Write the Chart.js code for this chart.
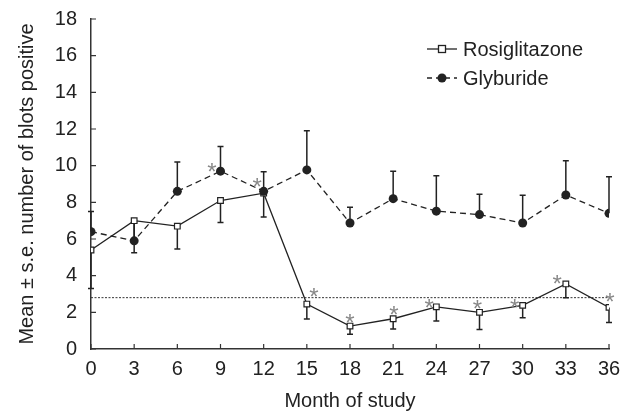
<!DOCTYPE html>
<html>
<head>
<meta charset="utf-8">
<script src="https://cdn.jsdelivr.net/npm/chart.js"></script>
<style>
  html, body { margin: 0; padding: 0; background: #fff; }
  #wrap { width: 632px; height: 414px; }
</style>
</head>
<body>
<div id="wrap"><canvas id="blotChart" width="632" height="414"></canvas></div>
<script>
// months of study
var months = [0, 3, 6, 9, 12, 15, 18, 21, 24, 27, 30, 33, 36];

// Rosiglitazone: mean and lower end of s.e. bar
var rosiMean = [5.4, 7.0, 6.7, 8.1, 8.5, 2.45, 1.25, 1.65, 2.3, 2.0, 2.38, 3.55, 2.27];
var rosiLow  = [3.3, 5.25, 5.45, 6.9, 7.2, 1.64, 0.8, 1.09, 1.53, 1.07, 1.71, 2.8, 1.44];

// Glyburide: mean and upper end of s.e. bar
var glybMean = [6.4, 5.9, 8.6, 9.7, 8.6, 9.77, 6.87, 8.2, 7.52, 7.33, 6.87, 8.4, 7.4];
var glybHigh = [7.5, 6.9, 10.2, 11.05, 9.67, 11.9, 7.73, 9.69, 9.45, 8.44, 8.38, 10.27, 9.4];

// significance markers (*)
var starX = [8.4, 11.55, 15.5, 18.0, 21.05, 23.5, 26.85, 29.45, 32.4, 36.07];
var starY = [10.0, 9.15, 3.18, 1.76, 2.18, 2.55, 2.53, 2.58, 3.9, 2.9];

// reference level
var refLevel = 2.8;

var FONT = '"Liberation Sans", Arial, sans-serif';
var INK = '#222';

function toXY(xs, ys) {
    return xs.map(function (x, i) { return { x: x, y: ys[i] }; });
}

var extrasPlugin = {
    id: 'extras',
    beforeDatasetsDraw: function (chart) {
        var ctx = chart.ctx;
        var xs = chart.scales.x, ys = chart.scales.y;
        var area = chart.chartArea;
        ctx.save();

        // dotted reference line
        ctx.strokeStyle = '#333';
        ctx.lineWidth = 1;
        ctx.setLineDash([2, 1.5]);
        ctx.beginPath();
        var yr = ys.getPixelForValue(refLevel);
        ctx.moveTo(xs.getPixelForValue(0), yr);
        ctx.lineTo(xs.getPixelForValue(36), yr);
        ctx.stroke();
        ctx.setLineDash([]);

        // error bars
        ctx.strokeStyle = INK;
        ctx.lineWidth = 1.5;
        function bar(x, y0, y1) {
            var px = xs.getPixelForValue(x);
            var p0 = ys.getPixelForValue(y0), p1 = ys.getPixelForValue(y1);
            ctx.beginPath();
            ctx.moveTo(px, p0);
            ctx.lineTo(px, p1);
            ctx.moveTo(px - 3, p1);
            ctx.lineTo(px + 3, p1);
            ctx.stroke();
        }
        months.forEach(function (m, i) {
            bar(m, rosiMean[i], rosiLow[i]);
            bar(m, glybMean[i], glybHigh[i]);
        });

        // inward tick marks
        ctx.strokeStyle = '#333';
        ctx.lineWidth = 1.2;
        ctx.beginPath();
        xs.ticks.forEach(function (t) {
            var px = xs.getPixelForValue(t.value);
            ctx.moveTo(px, area.bottom);
            ctx.lineTo(px, area.bottom - 5);
        });
        ys.ticks.forEach(function (t) {
            var py = ys.getPixelForValue(t.value);
            ctx.moveTo(area.left, py);
            ctx.lineTo(area.left + 5, py);
        });
        ctx.stroke();
        ctx.restore();
    },
    afterDatasetsDraw: function (chart) {
        var ctx = chart.ctx;
        var xs = chart.scales.x, ys = chart.scales.y;
        ctx.save();

        // asterisks
        ctx.fillStyle = '#888';
        ctx.font = '24px ' + FONT;
        ctx.textAlign = 'center';
        ctx.textBaseline = 'alphabetic';
        starX.forEach(function (x, i) {
            ctx.fillText('*', xs.getPixelForValue(x), ys.getPixelForValue(starY[i]) + 14);
        });

        // legend
        var lx = 427, rows = [49, 78];
        ctx.strokeStyle = INK;
        ctx.lineWidth = 1.3;
        ctx.beginPath();
        ctx.moveTo(lx, rows[0]);
        ctx.lineTo(lx + 30, rows[0]);
        ctx.stroke();
        ctx.fillStyle = '#fff';
        ctx.fillRect(lx + 11.5, rows[0] - 3.5, 7, 7);
        ctx.strokeRect(lx + 11.5, rows[0] - 3.5, 7, 7);

        ctx.setLineDash([5, 4]);
        ctx.beginPath();
        ctx.moveTo(lx, rows[1]);
        ctx.lineTo(lx + 30, rows[1]);
        ctx.stroke();
        ctx.setLineDash([]);
        ctx.fillStyle = INK;
        ctx.beginPath();
        ctx.arc(lx + 15, rows[1], 4.5, 0, Math.PI * 2);
        ctx.fill();

        ctx.fillStyle = INK;
        ctx.font = '20px ' + FONT;
        ctx.textAlign = 'left';
        ctx.textBaseline = 'middle';
        ctx.fillText('Rosiglitazone', lx + 36, rows[0] + 1);
        ctx.fillText('Glyburide', lx + 36, rows[1] + 1);
        ctx.restore();
    }
};

var ctx = document.getElementById('blotChart').getContext('2d');
var blotChart = new Chart(ctx, {
    type: 'scatter',
    data: {
        datasets: [{
            label: 'Rosiglitazone',
            data: toXY(months, rosiMean),
            showLine: true,
            borderColor: INK,
            borderWidth: 1.3,
            pointStyle: 'rect',
            pointRadius: 4,
            pointBorderWidth: 1.2,
            pointBackgroundColor: '#fff',
            pointBorderColor: INK,
            order: 2
        }, {
            label: 'Glyburide',
            data: toXY(months, glybMean),
            showLine: true,
            borderColor: INK,
            borderWidth: 1.3,
            borderDash: [6, 4],
            pointStyle: 'circle',
            pointRadius: 4.5,
            pointBorderWidth: 0,
            pointBackgroundColor: INK,
            order: 1
        }]
    },
    options: {
        responsive: false,
        animation: false,
        layout: { padding: { top: 19, right: 23, left: 0, bottom: 0 } },
        plugins: {
            legend: { display: false },
            tooltip: { enabled: false }
        },
        scales: {
            x: {
                type: 'linear',
                min: 0,
                max: 36,
                grid: { drawOnChartArea: false, drawTicks: false },
                border: { color: '#333', width: 1.5 },
                ticks: {
                    stepSize: 3,
                    padding: 8,
                    color: INK,
                    font: { family: FONT, size: 20 }
                },
                title: {
                    display: true,
                    text: 'Month of study',
                    color: INK,
                    font: { family: FONT, size: 20 },
                    padding: { top: 0, bottom: 1 }
                },
                afterFit: function (scale) { scale.height = 65; }
            },
            y: {
                min: 0,
                max: 18,
                grid: { drawOnChartArea: false, drawTicks: false },
                border: { color: '#333', width: 1.5 },
                ticks: {
                    stepSize: 2,
                    padding: 14,
                    color: INK,
                    font: { family: FONT, size: 20 }
                },
                title: {
                    display: true,
                    text: 'Mean \u00b1 s.e. number of blots positive',
                    color: INK,
                    font: { family: FONT, size: 20 },
                    padding: { top: 15 }
                },
                afterFit: function (scale) {
                    scale.width = 91;
                    scale.paddingTop = 0;
                    scale.paddingBottom = 0;
                }
            }
        }
    },
    plugins: [extrasPlugin]
});
</script>
</body>
</html>
